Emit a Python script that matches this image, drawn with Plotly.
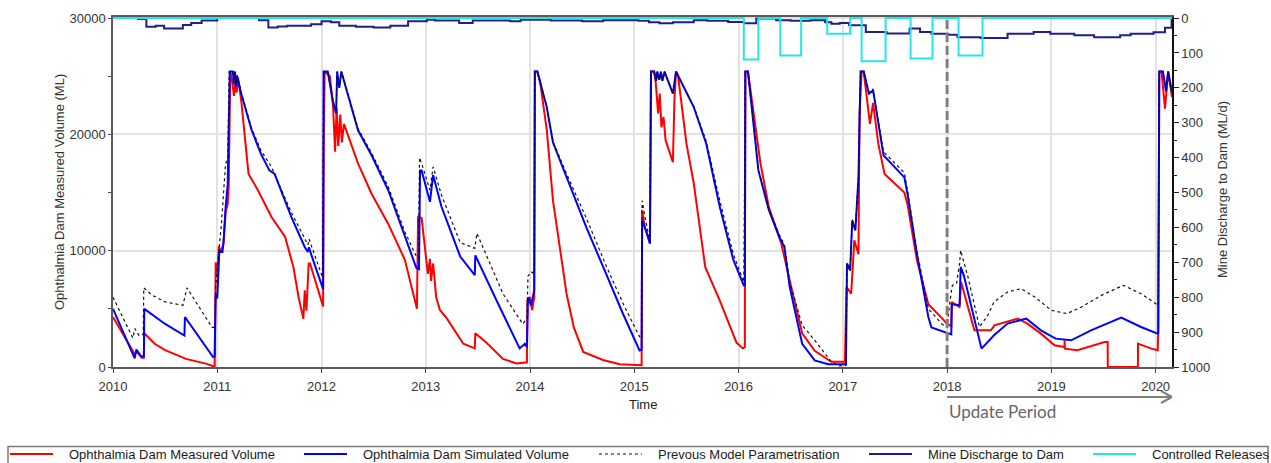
import plotly.graph_objects as go

# ---------------- data (decimal year, value) ----------------
YEAR_TICKS = list(range(2010, 2021))
X_START = 2010.0
X_END = 2020.157
UPDATE_START = 2018.0

MEASURED = [  # Ophthalmia Dam measured volume (ML)
    (2010.000, 4300), (2010.208, 1100), (2010.230, 1300), (2010.275, 800), (2010.296, 800),
    (2010.300, 2900), (2010.400, 2000), (2010.500, 1450), (2010.700, 700), (2010.900, 270),
    (2010.975, 30), (2010.985, 9000), (2011.000, 7800), (2011.015, 10400), (2011.035, 9900),
    (2011.060, 10600), (2011.080, 13300), (2011.100, 14000), (2011.110, 15600), (2011.125, 25400),
    (2011.140, 24800), (2011.160, 23300), (2011.173, 24400), (2011.186, 23600), (2011.199, 24900),
    (2011.215, 23800), (2011.230, 22900), (2011.300, 16600), (2011.390, 15200), (2011.520, 12900),
    (2011.650, 11200), (2011.730, 8600), (2011.780, 6000), (2011.826, 4150), (2011.839, 6600),
    (2011.855, 4850), (2011.877, 8900), (2011.890, 8900), (2012.015, 5200), (2012.022, 19900),
    (2012.030, 25400), (2012.080, 25000), (2012.110, 22500), (2012.130, 18500), (2012.145, 22300),
    (2012.160, 19000), (2012.180, 21700), (2012.195, 19300), (2012.215, 20900), (2012.350, 17500),
    (2012.480, 14900), (2012.640, 12300), (2012.800, 9200), (2012.915, 5000), (2012.926, 12900),
    (2012.960, 12800), (2012.990, 10500), (2013.020, 8000), (2013.040, 9300), (2013.050, 7400),
    (2013.070, 8900), (2013.100, 6000), (2013.135, 4900), (2013.200, 4200), (2013.360, 2000),
    (2013.470, 1600), (2013.475, 2900), (2013.580, 2100), (2013.740, 700), (2013.870, 300),
    (2013.970, 400), (2013.975, 5700), (2014.000, 6000), (2014.020, 4900), (2014.040, 6000),
    (2014.048, 25400), (2014.070, 25400), (2014.095, 24600), (2014.160, 20400), (2014.220, 14300),
    (2014.290, 10000), (2014.350, 6300), (2014.420, 3400), (2014.510, 1300), (2014.700, 600),
    (2014.860, 230), (2015.070, 150), (2015.075, 13500), (2015.100, 12000), (2015.150, 10700),
    (2015.160, 25400), (2015.190, 25400), (2015.205, 24500), (2015.228, 21800), (2015.244, 23500),
    (2015.260, 20600), (2015.280, 21500), (2015.300, 19500), (2015.370, 17600), (2015.385, 23000),
    (2015.400, 25400), (2015.420, 25000), (2015.500, 19200), (2015.570, 15800), (2015.680, 8600),
    (2015.820, 5700), (2015.980, 2100), (2016.040, 1600), (2016.060, 1700), (2016.065, 25400),
    (2016.090, 25400), (2016.160, 20600), (2016.210, 17500), (2016.290, 13750), (2016.410, 10600),
    (2016.490, 7450), (2016.610, 2900), (2016.730, 1400), (2016.890, 450), (2017.020, 450),
    (2017.035, 6900), (2017.080, 6300), (2017.100, 9700), (2017.110, 10900), (2017.150, 9700),
    (2017.160, 21800), (2017.180, 25400), (2017.200, 25400), (2017.260, 20900), (2017.290, 22700),
    (2017.340, 19200), (2017.400, 16600), (2017.590, 15000), (2017.620, 14000), (2017.710, 9200),
    (2017.820, 5400), (2017.950, 4200), (2018.000, 3700), (2018.040, 3500), (2018.045, 5590),
    (2018.118, 5160), (2018.134, 7310), (2018.262, 3155), (2018.420, 3155), (2018.454, 3585),
    (2018.678, 4160), (2018.770, 3730), (2018.900, 2870), (2019.030, 1865), (2019.126, 1720),
    (2019.127, 2295), (2019.130, 1580), (2019.250, 1435), (2019.380, 1780), (2019.510, 2150),
    (2019.540, 2150), (2019.541, 0), (2019.830, 0), (2019.831, 2010), (2019.960, 1580),
    (2020.020, 1435), (2020.025, 2900), (2020.035, 25400), (2020.057, 25400), (2020.090, 22200),
    (2020.120, 25400), (2020.157, 23200),
]

SIMULATED = [  # Ophthalmia Dam simulated volume (ML)
    (2010.000, 5000), (2010.208, 750), (2010.224, 1500), (2010.272, 900), (2010.296, 900),
    (2010.300, 5000), (2010.500, 3700), (2010.685, 2700), (2010.690, 4300), (2010.960, 850),
    (2010.975, 900), (2010.985, 6300), (2011.000, 5900), (2011.020, 10000), (2011.050, 9900),
    (2011.060, 10750), (2011.080, 13700), (2011.100, 15700), (2011.120, 25400), (2011.150, 25400),
    (2011.160, 24300), (2011.170, 25400), (2011.180, 24100), (2011.190, 25000), (2011.230, 23500),
    (2011.330, 20350), (2011.420, 18300), (2011.500, 16900), (2011.550, 16600), (2011.710, 12900),
    (2011.840, 10300), (2011.870, 9900), (2011.880, 10300), (2011.900, 9700), (2012.015, 6700),
    (2012.020, 25400), (2012.060, 25400), (2012.110, 22800), (2012.140, 21800), (2012.150, 25400),
    (2012.170, 24000), (2012.190, 25400), (2012.350, 20350), (2012.480, 18200), (2012.640, 15200),
    (2012.800, 11200), (2012.910, 8500), (2012.935, 8400), (2012.945, 16900), (2012.960, 16900),
    (2013.040, 14200), (2013.070, 16500), (2013.150, 13800), (2013.200, 12600), (2013.330, 9500),
    (2013.470, 7900), (2013.475, 9600), (2013.680, 5700), (2013.900, 1600), (2013.950, 2000),
    (2013.970, 1700), (2013.980, 6000), (2014.010, 5300), (2014.040, 6600), (2014.045, 25400),
    (2014.070, 25400), (2014.160, 22350), (2014.220, 19300), (2014.350, 16300), (2014.540, 12000),
    (2014.730, 8000), (2014.890, 4600), (2015.050, 1430), (2015.070, 1500), (2015.075, 12600),
    (2015.110, 11800), (2015.150, 10600), (2015.160, 25400), (2015.190, 25400), (2015.210, 24600),
    (2015.220, 25400), (2015.240, 24700), (2015.255, 25400), (2015.270, 24600), (2015.290, 25400),
    (2015.370, 23500), (2015.400, 25400), (2015.570, 22350), (2015.690, 19200), (2015.820, 13750),
    (2015.950, 9200), (2016.050, 7000), (2016.060, 7000), (2016.065, 25400), (2016.090, 25400),
    (2016.190, 16900), (2016.290, 13500), (2016.390, 11200), (2016.440, 10300), (2016.490, 6900),
    (2016.610, 2000), (2016.730, 570), (2016.860, 230), (2017.030, 230), (2017.040, 8900),
    (2017.070, 8300), (2017.090, 12600), (2017.120, 11750), (2017.150, 16300), (2017.170, 25400),
    (2017.200, 25400), (2017.250, 23500), (2017.290, 23800), (2017.390, 18200), (2017.590, 16300),
    (2017.620, 14900), (2017.710, 9750), (2017.820, 4300), (2017.850, 3400), (2018.020, 2870),
    (2018.040, 2800), (2018.045, 5400), (2018.120, 5300), (2018.130, 8600), (2018.160, 7880),
    (2018.330, 1580), (2018.450, 2725), (2018.580, 3730), (2018.760, 4160), (2018.900, 3155),
    (2019.040, 2440), (2019.190, 2295), (2019.380, 3155), (2019.670, 4245), (2019.860, 3440),
    (2020.020, 2870), (2020.025, 2900), (2020.035, 25400), (2020.070, 25400), (2020.100, 23700),
    (2020.120, 25400), (2020.157, 23600),
]

PREVIOUS = [  # previous model parametrisation (ML)
    (2010.000, 6000), (2010.190, 2500), (2010.210, 3300), (2010.250, 2700), (2010.290, 2800),
    (2010.295, 6800), (2010.370, 6200), (2010.500, 5600), (2010.670, 5300), (2010.710, 6800),
    (2010.950, 3400), (2010.980, 3400), (2010.985, 6900), (2011.020, 10300), (2011.040, 12300),
    (2011.080, 17500), (2011.100, 17800), (2011.115, 25400), (2011.150, 25400), (2011.160, 24500),
    (2011.170, 25400), (2011.180, 24300), (2011.190, 25100), (2011.230, 23600), (2011.330, 20500),
    (2011.420, 18600), (2011.520, 17200), (2011.710, 13300), (2011.840, 11000), (2011.870, 10500),
    (2011.880, 11000), (2012.010, 7700), (2012.020, 25400), (2012.060, 25400), (2012.110, 22900),
    (2012.140, 22000), (2012.150, 25400), (2012.170, 24100), (2012.190, 25400), (2012.350, 20500),
    (2012.480, 18400), (2012.640, 15500), (2012.800, 11600), (2012.910, 9500), (2012.930, 9400),
    (2012.940, 18000), (2012.960, 17500), (2013.040, 15200), (2013.070, 17200), (2013.150, 14800),
    (2013.330, 10700), (2013.470, 10200), (2013.490, 11500), (2013.740, 6300), (2013.930, 3700),
    (2013.970, 4200), (2013.980, 7800), (2014.010, 8200), (2014.040, 8000), (2014.045, 25400),
    (2014.070, 25400), (2014.160, 22400), (2014.220, 19400), (2014.350, 16600), (2014.540, 12800),
    (2014.730, 8700), (2014.890, 5500), (2015.050, 2600), (2015.070, 2700), (2015.075, 14300),
    (2015.100, 13000), (2015.150, 10800), (2015.160, 25400), (2015.190, 25400), (2015.210, 24600),
    (2015.220, 25400), (2015.240, 24700), (2015.255, 25400), (2015.270, 24600), (2015.290, 25400),
    (2015.370, 23500), (2015.400, 25400), (2015.570, 22400), (2015.690, 19400), (2015.820, 14300),
    (2015.950, 9700), (2016.050, 7300), (2016.065, 25400), (2016.090, 25400), (2016.190, 17000),
    (2016.290, 13600), (2016.390, 11400), (2016.440, 10500), (2016.490, 7300), (2016.610, 3600),
    (2016.730, 2300), (2016.890, 450), (2016.960, 100), (2017.030, 150), (2017.040, 8900),
    (2017.070, 8300), (2017.090, 12700), (2017.120, 11800), (2017.150, 16400), (2017.170, 25400),
    (2017.200, 25400), (2017.250, 23600), (2017.290, 23900), (2017.390, 18500), (2017.590, 16700),
    (2017.620, 15200), (2017.710, 10000), (2017.820, 5000), (2017.950, 3700), (2018.000, 3400),
    (2018.020, 5160), (2018.050, 7020), (2018.090, 7160), (2018.120, 8900), (2018.130, 10030),
    (2018.200, 7740), (2018.310, 3440), (2018.390, 4440), (2018.450, 5590), (2018.580, 6450),
    (2018.710, 6730), (2018.840, 6020), (2019.000, 4870), (2019.150, 4590), (2019.290, 5160),
    (2019.480, 6160), (2019.690, 7020), (2019.860, 6300), (2020.020, 5300), (2020.025, 5300),
    (2020.035, 25400), (2020.070, 25400), (2020.100, 23700), (2020.120, 25400), (2020.157, 23600),
]

DISCHARGE = [  # mine discharge to dam (ML/d), step series
    (2010.000, 0), (2010.240, 3), (2010.320, 25), (2010.410, 22), (2010.490, 30), (2010.670, 20),
    (2010.750, 14), (2010.850, 7), (2011.000, 0), (2011.400, 6), (2011.490, 27), (2011.580, 24),
    (2011.670, 22), (2011.900, 18), (2012.000, 9), (2012.090, 12), (2012.170, 22), (2012.330, 25),
    (2012.500, 27), (2012.660, 22), (2012.830, 9), (2013.010, 5), (2013.090, 7), (2013.320, 14),
    (2013.450, 7), (2013.810, 9), (2013.910, 5), (2014.200, 7), (2014.500, 9), (2014.700, 6),
    (2015.040, 8), (2015.140, 12), (2015.240, 15), (2015.370, 12), (2015.570, 6), (2015.700, 8),
    (2015.900, 11), (2016.050, 15), (2016.170, 1), (2016.360, 6), (2016.500, 8), (2016.690, 6),
    (2016.830, 12), (2016.890, 16), (2016.970, 14), (2017.060, 21), (2017.220, 40), (2017.420, 44),
    (2017.640, 30), (2017.740, 40), (2017.850, 45), (2018.010, 48), (2018.100, 55), (2018.320, 57),
    (2018.580, 45), (2018.830, 40), (2018.990, 45), (2019.220, 49), (2019.410, 55), (2019.660, 49),
    (2019.760, 45), (2019.980, 41), (2020.090, 28), (2020.153, 0), (2020.157, 0),
]

RELEASES = [  # controlled releases (ML/d), step series
    (2010.000, 0), (2016.050, 119), (2016.190, 0), (2016.400, 107), (2016.600, 0),
    (2016.850, 45), (2017.070, 0), (2017.180, 124), (2017.410, 0), (2017.650, 116),
    (2017.860, 0), (2018.110, 107), (2018.340, 0), (2020.157, 0),
]

SERIES_NAMES = [
    "Ophthalmia Dam Measured Volume",
    "Ophthalmia Dam Simulated Volume",
    "Prevous Model Parametrisation",
    "Mine Discharge to Dam",
    "Controlled Releases",
]

# ---------------- styling ----------------
FONT = "Liberation Sans, Arial, sans-serif"
C_RED, C_BLUE, C_BLACK, C_NAVY, C_CYAN = "#ff0000", "#0000ff", "#111111", "#1f1f8a", "#25e6e6"
W, H = 1271, 463
PLOT_X0, PLOT_X1, PLOT_Y0, PLOT_Y1 = 113, 1172, 17, 367   # window pixels of the plot area
L, R, T, B = PLOT_X0, W - PLOT_X1, PLOT_Y0, H - PLOT_Y1
PW, PH = W - L - R, H - T - B


def xp(px):   # window pixel -> paper x
    return (px - PLOT_X0) / PW


def yp(py):   # window pixel -> paper y
    return (PLOT_Y1 - py) / PH


def split(pairs):
    return [p[0] for p in pairs], [p[1] for p in pairs]


fig = go.Figure()
styles = [
    (MEASURED, "y", dict(color=C_RED, width=2), "linear"),
    (SIMULATED, "y", dict(color=C_BLUE, width=2), "linear"),
    (PREVIOUS, "y", dict(color=C_BLACK, width=1.2, dash="dot"), "linear"),
    (DISCHARGE, "y2", dict(color=C_NAVY, width=2), "hv"),
    (RELEASES, "y2", dict(color=C_CYAN, width=2), "hv"),
]
for (pairs, yax, line, shape), name in zip(styles, SERIES_NAMES):
    xs, ys = split(pairs)
    fig.add_trace(go.Scatter(x=xs, y=ys, yaxis=yax, mode="lines", name=name,
                             line=dict(shape=shape, **line), showlegend=False))

tick_font = dict(family=FONT, size=13, color="#333333")
fig.update_layout(
    width=W, height=H,
    margin=dict(l=L, r=R, t=T, b=B),
    paper_bgcolor="white", plot_bgcolor="white",
    font=dict(family=FONT, size=13, color="#222222"),
    xaxis=dict(range=[X_START, X_END], tickvals=YEAR_TICKS, ticktext=[str(y) for y in YEAR_TICKS],
               showgrid=True, gridcolor="#e2e2e2", gridwidth=1.5, zeroline=False,
               showline=True, linecolor="#5a5a5a", linewidth=1.5, mirror=True,
               ticks="outside", ticklen=4, tickcolor="#444444", tickfont=tick_font,
               ticklabelstandoff=3),
    yaxis=dict(range=[0, 30090], tickvals=[0, 10000, 20000, 30000], tickformat="d",
               showgrid=True, gridcolor="#e2e2e2", gridwidth=1.5, zeroline=False,
               showline=True, linecolor="#5a5a5a", linewidth=1.5,
               ticks="outside", ticklen=3, tickcolor="#444444", tickfont=tick_font,
               minor=dict(dtick=5000, ticks="outside", ticklen=3, tickcolor="#444444")),
    yaxis2=dict(range=[1000, -3], overlaying="y", side="right", tickvals=list(range(0, 1001, 100)),
                showgrid=False, zeroline=False, showline=True, linecolor="#111111", linewidth=1.5,
                ticks="outside", ticklen=5, tickcolor="#222222", tickfont=tick_font,
                minor=dict(dtick=50, ticks="outside", ticklen=3, tickcolor="#222222")),
)

shapes = []
annotations = []
# 2018 dashed marker line
shapes.append(dict(type="line", xref="x", yref="paper", x0=UPDATE_START, x1=UPDATE_START, y0=0, y1=1,
                   line=dict(color="#808080", width=3, dash="9px,4px"), layer="above"))
# update period arrow
arrow_line = dict(color="#7f7f7f", width=2)
shapes.append(dict(type="line", xref="x", yref="paper", ysizemode="pixel", yanchor=0,
                   x0=UPDATE_START, x1=X_END, y0=-30, y1=-30, line=arrow_line))
for dy in (6, -6):
    shapes.append(dict(type="line", xref="x", xsizemode="pixel", xanchor=X_END,
                       yref="paper", ysizemode="pixel", yanchor=0,
                       x0=-11, x1=0, y0=-30 + dy, y1=-30, line=arrow_line))
annotations.append(dict(text="Update Period", xref="x", x=UPDATE_START, xanchor="left",
                        yref="paper", y=0, yshift=-44, yanchor="middle", showarrow=False,
                        font=dict(family="Lato, Open Sans, sans-serif", size=17, color="#666666")))
# axis titles
annotations.append(dict(text="Time", xref="paper", x=0.5, xanchor="center", yref="paper", y=0, yshift=-37,
                        yanchor="middle", showarrow=False, font=dict(family=FONT, size=13, color="#222222")))
annotations.append(dict(text="Ophthalmia Dam Measured Volume (ML)", xref="paper", x=0, xshift=-54,
                        xanchor="center", yref="paper", y=yp(192), yanchor="middle", textangle=-90,
                        showarrow=False, font=dict(family=FONT, size=13, color="#333333")))
annotations.append(dict(text="Mine Discharge to Dam (ML/d)", xref="paper", x=1, xshift=50,
                        xanchor="center", yref="paper", y=yp(190), yanchor="middle", textangle=-90,
                        showarrow=False, font=dict(family=FONT, size=13, color="#333333")))

# legend box (manual, bottom)
shapes.append(dict(type="rect", xref="paper", yref="paper", x0=xp(8), x1=xp(1268), y0=yp(475), y1=yp(446.5),
                   line=dict(color="#7a7a7a", width=1.5), fillcolor="rgba(0,0,0,0)"))
legend_text_x = [68, 362, 657, 927, 1151]
legend_lines = [dict(color=C_RED, width=2), dict(color=C_BLUE, width=2),
                dict(color=C_BLACK, width=1.2, dash="dot"), dict(color=C_NAVY, width=2),
                dict(color=C_CYAN, width=2)]
for tx, ln, name in zip(legend_text_x, legend_lines, SERIES_NAMES):
    shapes.append(dict(type="line", xref="paper", yref="paper", x0=xp(tx - 58), x1=xp(tx - 15),
                       y0=yp(454), y1=yp(454), line=ln))
    annotations.append(dict(text=name, xref="paper", x=xp(tx - 1), xanchor="left", yref="paper", y=yp(454),
                            yanchor="middle", showarrow=False,
                            font=dict(family=FONT, size=13, color="#1a1a1a")))

fig.update_layout(shapes=shapes, annotations=annotations)
fig.write_html("out.html", config={"displayModeBar": False},
               post_script="document.body.style.margin='0';document.body.style.overflow='hidden';")
